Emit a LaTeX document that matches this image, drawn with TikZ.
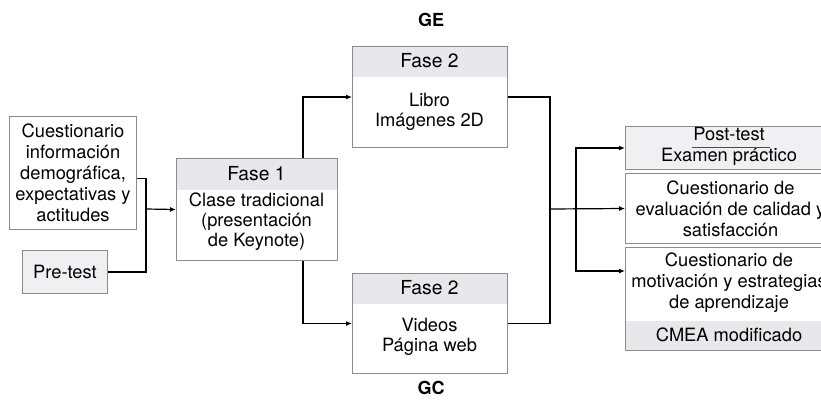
\documentclass[tikz,border=0pt]{standalone}
\usepackage{fontspec}
\setmainfont{TeX Gyre Heros}
\usetikzlibrary{arrows.meta,calc}
\definecolor{bord}{HTML}{8C8C8C}
\definecolor{hdr}{HTML}{E8E8EC}
\definecolor{light}{HTML}{F0F0F2}
\begin{document}
\begin{tikzpicture}[x=1pt,y=-1pt,
  box/.style={draw=bord, line width=1pt, rectangle, inner sep=0pt, anchor=north west},
  txt/.style={font=\fontsize{18.3}{21}\selectfont, align=center, inner sep=0pt},
  hd/.style={font=\fontsize{19.3}{21}\selectfont, inner sep=0pt},
  hdrbox/.style={path picture={\fill[hdr] (path picture bounding box.north west) rectangle ([yshift=-#1]path picture bounding box.north east);}},
  footbox/.style={path picture={\fill[hdr] (path picture bounding box.south west) rectangle ([yshift=#1]path picture bounding box.south east);}},
  conn/.style={line width=1.2pt, black},
  arr/.style={conn, -{Latex[length=6pt,width=5pt]}},
  lbl/.style={font=\fontsize{18}{21}\selectfont\bfseries, inner sep=0pt}]
\useasboundingbox (0,0) rectangle (821,407);

% group labels
\node[lbl] (ge) at (431,20) {GE};
\node[lbl] (gc) at (431,388) {GC};

% left column
\node[box, txt, minimum width=127pt, minimum height=113pt] (q) at (9,116)
  {Cuestionario\\información\\demográfica,\\expectativas y\\actitudes};
\node[box, txt, fill=light, minimum width=85pt, minimum height=43pt] (p) at (22,250) {Pre-test};

% Fase 1
\node[box, hdrbox=31pt, minimum width=161pt, minimum height=102pt] (f1) at (176,158) {};
\node[hd] (f1h) at (256.5,174) {Fase 1};
\node[txt, font=\fontsize{18.3}{20}\selectfont] (f1b) at (256.5,222) {Clase tradicional\\(presentación\\de Keynote)};

% Fase 2 top
\node[box, hdrbox=30pt, minimum width=155pt, minimum height=101pt] (f2a) at (352,46) {};
\node[hd] (f2ah) at (429.5,61) {Fase 2};
\node[txt, font=\fontsize{18.3}{20}\selectfont] (f2ab) at (429.5,112) {Libro\\Imágenes 2D};

% Fase 2 bottom
\node[box, hdrbox=30pt, minimum width=155pt, minimum height=100pt] (f2b) at (352,273) {};
\node[hd] (f2bh) at (429.5,288) {Fase 2};
\node[txt, font=\fontsize{18.3}{20}\selectfont] (f2bb) at (429.5,337) {Videos\\Página web};

% right column
\node[box, fill=light, minimum width=210pt, minimum height=43pt] (r1) at (625,126) {};
\node[txt] (r1a) at (729,134) {Post-test};
\node[txt] (r1b) at (729,157) {Examen práctico};
\draw[line width=0.8pt, black!70] (692,147) -- (770,147);

\node[box, txt, minimum width=210pt, minimum height=70pt] (r2) at (625,173)
  {Cuestionario de\\evaluación de calidad y\\satisfacción};

\node[box, footbox=30pt, minimum width=210pt, minimum height=103pt] (r3) at (625,247) {};
\node[txt] (r3a) at (729,283) {Cuestionario de\\motivación y estrategias\\de aprendizaje};
\node[txt] (r3b) at (729,335) {CMEA modificado};

% connectors
\coordinate (j1) at (146,209);
\draw[conn] ([yshift=-5.5pt]q.east) -| (j1) |- (p.east);
\draw[arr] (j1) -- (f1.west);
\draw[arr] ([xshift=127pt]f1.north west) |- (f2a.west);
\draw[arr] ([xshift=127pt]f1.south west) |- (f2b.west);

\coordinate (j2) at (550,209);
\draw[conn] (f2a.east) -| (j2) |- (f2b.east);
\draw[arr] (j2) -- (r2.west);
\coordinate (j3) at (576,209);
\draw[arr] (j3) |- (r1.west);
\draw[arr] (j3) |- ($(r3.north west)+(0,24)$);
\end{tikzpicture}
\end{document}
